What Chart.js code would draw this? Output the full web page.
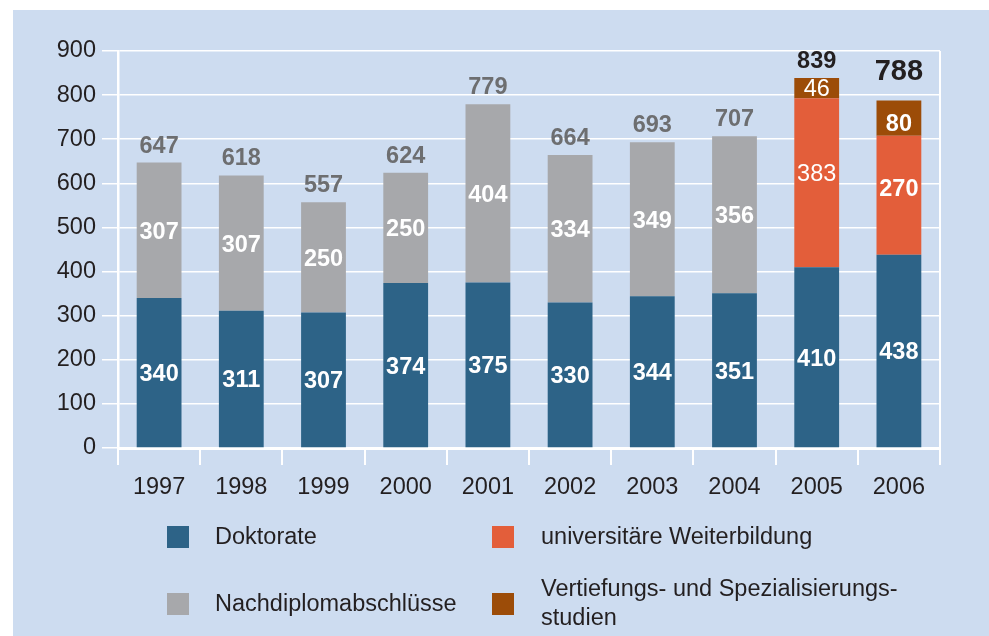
<!DOCTYPE html>
<html>
<head>
<meta charset="utf-8">
<script src="https://cdn.jsdelivr.net/npm/chart.js@4/dist/chart.umd.min.js"></script>
<style>
  html, body { margin: 0; padding: 0; background: #ffffff; }
  #wrap { position: relative; width: 989px; height: 636px; overflow: hidden; }
  #bg { position: absolute; left: 13px; top: 10px; width: 976px; height: 626px; background: #cddcf0; }
  #c { position: absolute; left: 0; top: 0; }
  .lg-box { position: absolute; width: 22px; height: 22px; }
  .lg-text { position: absolute; font-family: "Liberation Sans", Arial, sans-serif; font-size: 23.5px; line-height: 29px; color: #231f20; white-space: pre; }
</style>
</head>
<body>
<div id="wrap">
  <div id="bg"></div>
  <canvas id="c" width="989" height="636"></canvas>
</div>
<script>
// ---- data ----
const years = ['1997','1998','1999','2000','2001','2002','2003','2004','2005','2006'];
const doktorate     = [340, 311, 307, 374, 375, 330, 344, 351, 410, 438];
const nachdiplom    = [307, 307, 250, 250, 404, 334, 349, 356, null, null];
const weiterbildung = [null, null, null, null, null, null, null, null, 383, 270];
const vertiefung    = [null, null, null, null, null, null, null, null, 46, 80];
const totals        = [647, 618, 557, 624, 779, 664, 693, 707, 839, 788];
const seriesNames   = ['Doktorate', 'Nachdiplomabschlüsse', 'universitäre Weiterbildung', 'Vertiefungs- und Spezialisierungs-\nstudien'];
const yTickValues   = [0, 100, 200, 300, 400, 500, 600, 700, 800, 900];

// ---- styles ----
const colors = ['#2d6387', '#a7a8ab', '#e35e3a', '#9c4c08'];
const FONT = '"Liberation Sans", Arial, sans-serif';
const TXT = '#231f20';

const seriesData = [doktorate, nachdiplom, weiterbildung, vertiefung];

// small vertical nudges for a few in-bar labels (dataset index -> year index -> px)
const labelNudge = { 2: { 8: -10, 9: -8 }, 3: { 9: 5 } };

const labelPlugin = {
  id: 'labels',
  afterDatasetsDraw(chart) {
    const ctx = chart.ctx;
    const area = chart.chartArea;
    ctx.save();
    // right frame line
    ctx.strokeStyle = '#ffffff';
    ctx.lineWidth = 2;
    ctx.beginPath();
    ctx.moveTo(area.right, area.top);
    ctx.lineTo(area.right, area.bottom + 17);
    ctx.stroke();

    ctx.textAlign = 'center';
    ctx.textBaseline = 'alphabetic';
    chart.data.datasets.forEach((ds, i) => {
      const meta = chart.getDatasetMeta(i);
      meta.data.forEach((bar, j) => {
        const v = ds.data[j];
        if (v == null) return;
        const p = bar.getProps(['x', 'y', 'base'], true);
        const nudge = (labelNudge[i] && labelNudge[i][j]) || 0;
        const cy = (p.y + p.base) / 2 + nudge;
        const weight = (j === 8 && i >= 2) ? 'normal' : 'bold';
        const size = 23.5;
        ctx.font = weight + ' ' + size + 'px ' + FONT;
        ctx.fillStyle = '#ffffff';
        ctx.fillText(String(v), p.x, cy + size * 0.358);
      });
    });
    // totals
    const ys = chart.scales.y;
    const meta0 = chart.getDatasetMeta(0);
    totals.forEach((t, j) => {
      const x = meta0.data[j].x;
      const top = ys.getPixelForValue(t);
      let size = 23.5, color = '#6d6e70', gap = 10;
      if (j === 8) { color = TXT; }
      if (j === 9) { color = TXT; size = 29; gap = 20; }
      ctx.font = 'bold ' + size + 'px ' + FONT;
      ctx.fillStyle = color;
      ctx.fillText(String(t), x, top - gap);
    });
    ctx.restore();
  }
};

new Chart(document.getElementById('c'), {
  type: 'bar',
  data: {
    labels: years,
    datasets: seriesData.map((d, i) => ({
      label: seriesNames[i],
      data: d,
      backgroundColor: colors[i],
      borderWidth: 0,
      barPercentage: 0.545,
      categoryPercentage: 1.0
    }))
  },
  options: {
    responsive: false,
    animation: false,
    devicePixelRatio: 1,
    layout: { padding: { left: 0, top: 51, right: 49, bottom: 128 } },
    plugins: { legend: { display: false }, tooltip: { enabled: false } },
    scales: {
      x: {
        stacked: true,
        afterFit(scale) { scale.height = 60; },
        grid: { offset: true, drawOnChartArea: false, color: '#ffffff', lineWidth: 2, tickLength: 17 },
        border: { display: true, color: '#ffffff', width: 3 },
        ticks: { color: TXT, font: { family: FONT, size: 23.5 }, padding: 8, maxRotation: 0 }
      },
      y: {
        stacked: true,
        min: 0,
        max: 900,
        afterFit(scale) { scale.width = 118; },
        afterBuildTicks(scale) { scale.ticks = yTickValues.map(v => ({ value: v })); },
        grid: { color: '#ffffff', lineWidth: 1.5, tickLength: 16 },
        border: { display: true, color: '#ffffff', width: 2.5 },
        ticks: { color: TXT, font: { family: FONT, size: 23.5 }, padding: 6 }
      }
    }
  },
  plugins: [labelPlugin]
});

// ---- legend (HTML) ----
const legendPos = [
  { bx: 167, by: 526, tx: 215, ty: 522 },
  { bx: 167, by: 593, tx: 215, ty: 589 },
  { bx: 492, by: 526, tx: 541, ty: 522 },
  { bx: 492, by: 593, tx: 541, ty: 574 }
];
const wrap = document.getElementById('wrap');
seriesNames.forEach((name, i) => {
  const p = legendPos[i];
  const b = document.createElement('div');
  b.className = 'lg-box';
  b.style.left = p.bx + 'px'; b.style.top = p.by + 'px';
  b.style.background = colors[i];
  wrap.appendChild(b);
  const t = document.createElement('div');
  t.className = 'lg-text';
  t.style.left = p.tx + 'px'; t.style.top = p.ty + 'px';
  t.textContent = name;
  wrap.appendChild(t);
});
</script>
</body>
</html>
